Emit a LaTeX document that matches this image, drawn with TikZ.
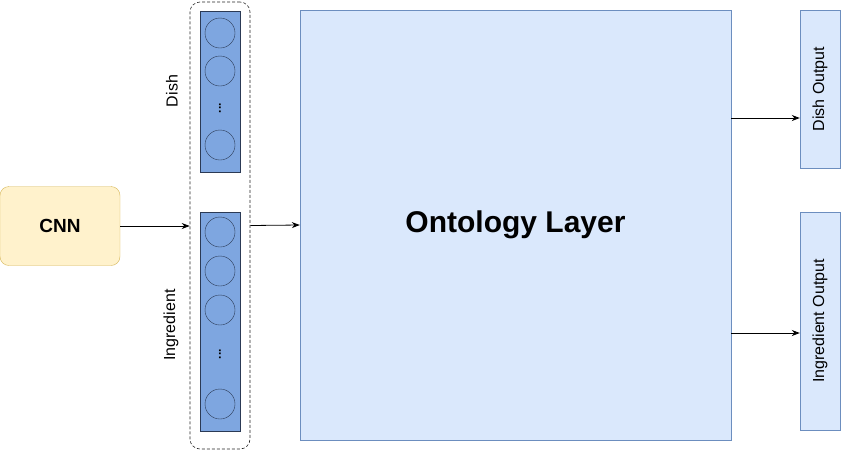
\documentclass[tikz,border=0pt]{standalone}
\usepackage{fontspec}
\setmainfont{Liberation Sans}
\usetikzlibrary{positioning,arrows.meta}

\definecolor{cnnfill}{HTML}{FFF2CC}
\definecolor{cnnline}{HTML}{D6B656}
\definecolor{layerfill}{HTML}{DAE8FC}
\definecolor{layerline}{HTML}{6C8EBF}
\definecolor{colfill}{HTML}{7EA6E0}
\definecolor{colline}{HTML}{2B3A55}

\tikzset{
  cnnbox/.style={draw=cnnline, fill=cnnfill, rounded corners=9pt, inner sep=0pt,
    minimum width=120pt, minimum height=79pt, font=\bfseries\fontsize{19}{21}\selectfont},
  layerbox/.style={draw=layerline, fill=layerfill, inner sep=0pt},
  column/.style={draw=colline, fill=colfill, inner sep=0pt, minimum width=40pt},
  neuron/.style={circle, draw=colline, fill=colfill, inner sep=0pt, minimum size=30pt},
  holder/.style={draw=black!85, semithick, dash pattern=on 3pt off 2pt, rounded corners=10pt,
    inner sep=0pt, minimum width=60pt, minimum height=447pt},
  vlabel/.style={rotate=90, font=\fontsize{16}{18}\selectfont},
  dots/.style={rotate=90, font=\bfseries\fontsize{12}{12}\selectfont},
  arrow/.style={-{Stealth[length=8pt,width=6pt]}, thick}
}

\begin{document}
\begin{tikzpicture}[x=1pt,y=-1pt]
    \useasboundingbox (0,0) rectangle (841,451);

    % Input network
    \node[cnnbox] (cnn) at (60,226) {CNN};

    % Dashed holder with the two columns
    \node[holder] (hold) at (220,225.5) {};
    \node[column, minimum height=161pt] (dcol) at (220,91.5) {};
    \node[column, minimum height=219pt] (icol) at (220,321.5) {};

    % Neurons
    \node[neuron] (d1) at (220,33) {};
    \node[neuron] (d2) at (220,71) {};
    \node[dots] (ddots) at (220,108) {...};
    \node[neuron] (d3) at (220,145) {};
    \node[neuron] (i1) at (220,232) {};
    \node[neuron] (i2) at (220,271) {};
    \node[neuron] (i3) at (220,310) {};
    \node[dots] (idots) at (220,354) {...};
    \node[neuron] (i4) at (220,404) {};

    % Column labels
    \node[vlabel] (dlab) at (172,91) {Dish};
    \node[vlabel] (ilab) at (171,325) {Ingredient};

    % Ontology layer
    \node[layerbox, minimum width=431pt, minimum height=430pt,
      font=\bfseries\fontsize{30}{33}\selectfont] (onto) at (515.5,225) {Ontology Layer};

    % Outputs
    \node[layerbox, minimum width=40pt, minimum height=158pt] (dout) at (820,89) {};
    \node[vlabel] at (dout) {Dish Output};
    \node[layerbox, minimum width=40pt, minimum height=218pt] (iout) at (820,321) {};
    \node[vlabel] at (iout) {Ingredient Output};

    % Connections
    \draw[arrow] (cnn.east) -- (cnn.east -| hold.west);
    \draw[arrow] (hold.east) -- (onto.west);
    \coordinate (dtip) at ([yshift=-29pt]dout.west);
    \coordinate (itip) at ([yshift=-12pt]iout.west);
    \draw[arrow] (onto.east |- dtip) -- (dtip);
    \draw[arrow] (onto.east |- itip) -- (itip);
\end{tikzpicture}
\end{document}
